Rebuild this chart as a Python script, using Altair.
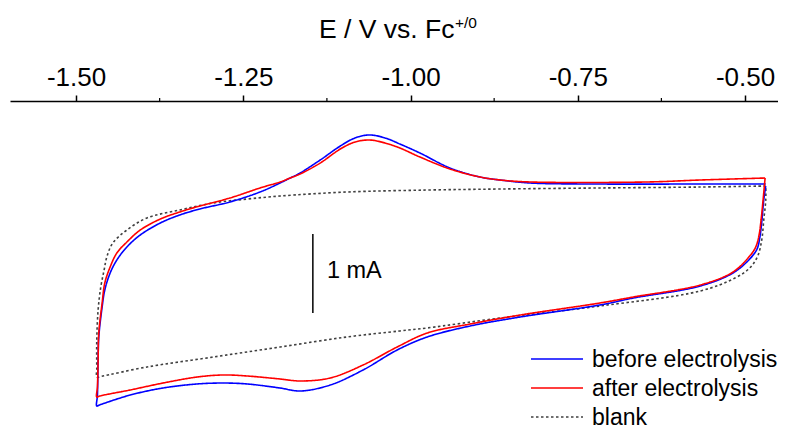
import altair as alt
import pandas as pd

FONT = "Liberation Sans"

# ---- data (E in V vs Fc+/0, I in mA, arbitrary zero) ----
before_E = [-0.469, -0.567, -0.717, -0.821, -0.866, -0.896, -0.941, -0.986, -1.016, -1.038,
            -1.061, -1.083, -1.105, -1.135, -1.165, -1.180, -1.195, -1.225, -1.270, -1.315,
            -1.345, -1.374, -1.404, -1.424, -1.439, -1.449, -1.457, -1.461, -1.466, -1.467,
            -1.468, -1.469, -1.465, -1.419, -1.370, -1.319, -1.280, -1.244, -1.195, -1.165,
            -1.120, -1.071, -1.020, -0.975, -0.911, -0.836, -0.717, -0.667, -0.567, -0.518,
            -0.493, -0.482, -0.478, -0.475, -0.472, -0.469]
before_I = [0.949, 0.949, 0.949, 0.962, 1.000, 1.038, 1.152, 1.342, 1.456, 1.532,
            1.570, 1.532, 1.430, 1.253, 1.089, 1.025, 0.962, 0.848, 0.722, 0.633,
            0.557, 0.456, 0.304, 0.152, -0.013, -0.177, -0.392, -0.608, -0.987, -1.278,
            -1.722, -1.861, -1.848, -1.722, -1.633, -1.582, -1.570, -1.582, -1.633, -1.671,
            -1.595, -1.405, -1.152, -0.987, -0.848, -0.734, -0.582, -0.494, -0.342, -0.177,
            0.000, 0.127, 0.266, 0.468, 0.747, 0.924]

after_E = [-0.470, -0.567, -0.646, -0.821, -0.866, -0.896, -0.941, -0.986, -1.016, -1.038,
           -1.061, -1.083, -1.105, -1.135, -1.165, -1.180, -1.195, -1.225, -1.270, -1.315,
           -1.345, -1.374, -1.404, -1.424, -1.439, -1.449, -1.457, -1.461, -1.466, -1.467,
           -1.468, -1.469, -1.465, -1.419, -1.370, -1.319, -1.280, -1.244, -1.195, -1.165,
           -1.120, -1.071, -1.020, -0.975, -0.911, -0.836, -0.717, -0.667, -0.567, -0.518,
           -0.493, -0.484, -0.479, -0.476, -0.473, -0.470]
after_I = [1.025, 1.000, 0.975, 0.975, 1.000, 1.038, 1.139, 1.291, 1.405, 1.468,
           1.506, 1.481, 1.392, 1.215, 1.076, 1.025, 0.975, 0.899, 0.772, 0.671,
           0.595, 0.506, 0.367, 0.215, 0.076, -0.101, -0.304, -0.557, -0.937, -1.278,
           -1.620, -1.747, -1.735, -1.658, -1.570, -1.494, -1.468, -1.481, -1.519, -1.544,
           -1.506, -1.342, -1.114, -0.937, -0.823, -0.709, -0.557, -0.481, -0.329, -0.165,
           0.038, 0.152, 0.304, 0.494, 0.747, 1.025]

blank_E = [-0.469, -0.567, -0.717, -0.866, -0.975, -1.095, -1.195, -1.244, -1.295, -1.345,
           -1.394, -1.424, -1.445, -1.454, -1.458, -1.463, -1.467, -1.469, -1.469, -1.469,
           -1.462, -1.394, -1.295, -1.195, -1.095, -1.016, -0.975, -0.866, -0.717, -0.567,
           -0.515, -0.493, -0.481, -0.475, -0.472, -0.469, -0.469]
blank_I = [0.924, 0.911, 0.899, 0.886, 0.873, 0.848, 0.797, 0.759, 0.709, 0.620,
           0.519, 0.367, 0.203, 0.025, -0.139, -0.354, -0.646, -1.025, -1.400, -1.494,
           -1.485, -1.367, -1.241, -1.114, -0.987, -0.911, -0.873, -0.747, -0.595, -0.405,
           -0.241, -0.114, 0.038, 0.241, 0.494, 0.747, 0.924]

series_names = ["before electrolysis", "after electrolysis", "blank"]
series_colors = ["#0000ff", "#ff0000", "#404040"]
series_dashes = [[1, 0], [1, 0], [2.5, 2.5]]

major_ticks = [-1.50, -1.25, -1.00, -0.75, -0.50]
minor_ticks = [-1.375, -1.125, -0.875, -0.625]

scalebar_E = [-1.146]
scalebar_I_low = [-0.684]
scalebar_I_high = [0.316]
scalebar_label_E = [-1.125]
scalebar_label_I = [-0.241]
scalebar_label = ["1 mA"]

title_main = "E / V vs. Fc"
title_sup = "+/0"

# ---- tables ----
rows = []
for name, Es, Is in [("blank", blank_E, blank_I),
                     ("before electrolysis", before_E, before_I),
                     ("after electrolysis", after_E, after_I)]:
    for k, (e, i) in enumerate(zip(Es, Is)):
        rows.append({"series": name, "E": e, "I": i, "idx": k})
df = pd.DataFrame(rows)
legend_df = pd.DataFrame({"series": series_names, "row": list(range(len(series_names)))})

xscale = alt.Scale(domain=[-1.5987, -0.4507], nice=False, zero=False)
yscale = alt.Scale(domain=[-2.0, 2.0], nice=False, zero=False)
color_scale = alt.Scale(domain=series_names, range=series_colors)
dash_scale = alt.Scale(domain=series_names, range=series_dashes)
# legend rows: 29 px apart
legend_y_scale = alt.Scale(domain=[0, 2], range=[258, 316], nice=False, zero=False)

xaxis = alt.Axis(orient="top", values=major_ticks, title=None,
                 labelExpr="(datum.value < 0 ? '-' : '') + format(abs(datum.value), '.2f')",
                 labelFontSize=26, labelFont=FONT, labelColor="black",
                 labelPadding=4.5, labelFlush=False,
                 tickSize=6, tickWidth=1.5, tickColor="black",
                 domainWidth=1.5, domainColor="black", grid=False)

lines = alt.Chart(df).mark_line(strokeWidth=1.6, interpolate="catmull-rom").encode(
    x=alt.X("E:Q", scale=xscale, axis=xaxis),
    y=alt.Y("I:Q", scale=yscale, axis=None),
    color=alt.Color("series:N", scale=color_scale, legend=None),
    strokeDash=alt.StrokeDash("series:N", scale=dash_scale, legend=None),
    order=alt.Order("idx:Q"),
)

minor = alt.Chart(pd.DataFrame({"E": minor_ticks})).mark_rule(color="black", strokeWidth=1.2).encode(
    x=alt.X("E:Q"),
    y=alt.value(-3), y2=alt.value(0),
)

sb_df = pd.DataFrame({"E": scalebar_E, "I1": scalebar_I_low, "I2": scalebar_I_high})
scalebar = alt.Chart(sb_df).mark_rule(color="black", strokeWidth=1.5).encode(
    x=alt.X("E:Q"),
    y=alt.Y("I1:Q"),
    y2="I2:Q",
)

sbl_df = pd.DataFrame({"E": scalebar_label_E, "I": scalebar_label_I, "t": scalebar_label})
scalebar_text = alt.Chart(sbl_df).mark_text(align="left", baseline="alphabetic",
                                            fontSize=23.5, font=FONT, color="black").encode(
    x=alt.X("E:Q"),
    y=alt.Y("I:Q"),
    text="t:N",
)

main = alt.layer(lines, minor, scalebar, scalebar_text)

# manual legend (rows spaced like the reference)
leg_lines = alt.Chart(legend_df).mark_rule(strokeWidth=1.6).encode(
    x=alt.value(521), x2=alt.value(573),
    y=alt.Y("row:Q", scale=legend_y_scale, axis=None),
    color=alt.Color("series:N", scale=color_scale, legend=None),
    strokeDash=alt.StrokeDash("series:N", scale=dash_scale, legend=None),
)
leg_text = alt.Chart(legend_df).mark_text(align="left", baseline="alphabetic", dy=8,
                                          fontSize=23, font=FONT, color="black").encode(
    x=alt.value(582),
    y=alt.Y("row:Q", scale=legend_y_scale, axis=None),
    text="series:N",
)
leg = alt.layer(leg_lines, leg_text)

t_main = alt.Chart(pd.DataFrame({"t": [title_main]})).mark_text(
    align="left", baseline="alphabetic", fontSize=26.5, font=FONT, color="black").encode(
    text="t:N", x=alt.value(309), y=alt.value(-63))
t_sup = alt.Chart(pd.DataFrame({"t": [title_sup]})).mark_text(
    align="left", baseline="alphabetic", fontSize=15.5, font=FONT, color="black").encode(
    text="t:N", x=alt.value(445), y=alt.value(-73))

chart = alt.layer(main, leg, t_main, t_sup).resolve_scale(y="independent").properties(
    width=768, height=316, autosize="none",
    padding={"left": 2, "top": 93, "right": 0, "bottom": 10},
    background="white",
).configure_view(stroke=None)

chart.save("out.html", embed_options={"renderer": "svg", "actions": False})
